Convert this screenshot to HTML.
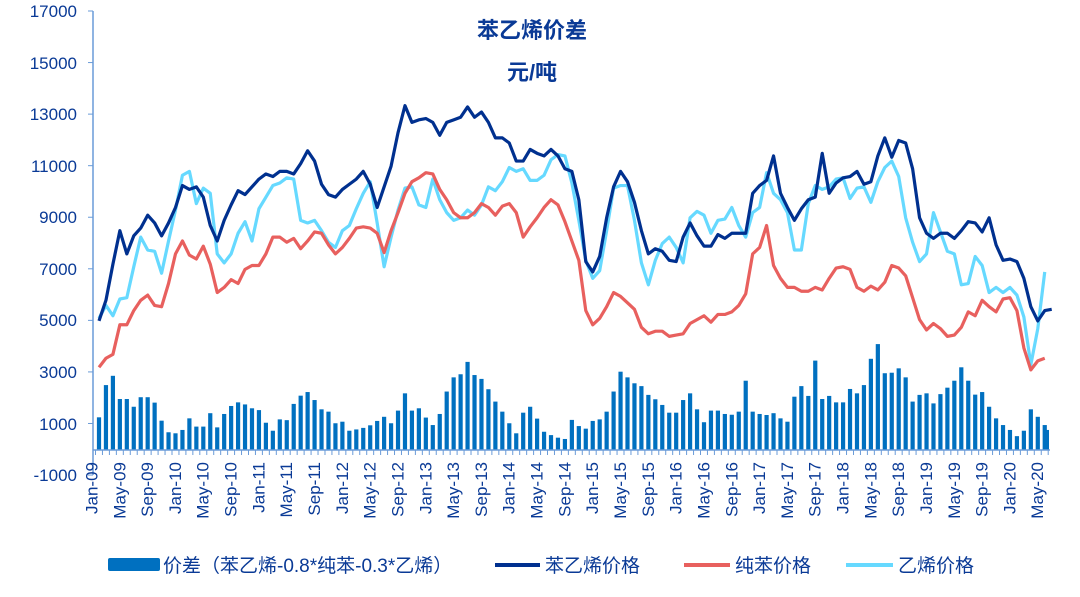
<!DOCTYPE html>
<html><head><meta charset="utf-8"><style>
html,body{margin:0;padding:0;background:#fff;}
svg{display:block;font-family:"Liberation Sans","Noto Sans CJK SC",sans-serif;}
</style></head><body>
<svg id="c" width="1080" height="597" viewBox="0 0 1080 597" xmlns="http://www.w3.org/2000/svg">
<g id="bars"></g>
<g id="lines"></g>
<line x1="93" y1="11" x2="93" y2="475" stroke="#6A9BD8" stroke-width="1.5"/>
<line x1="93" y1="450" x2="1050" y2="450" stroke="#6A9BD8" stroke-width="1.5"/>
<g id="ticks" stroke="#6A9BD8" stroke-width="1"></g>
<g fill="#0A3A96" font-size="17" text-anchor="end">
<text x="77" y="17">17000</text><text x="77" y="69">15000</text><text x="77" y="120">13000</text>
<text x="77" y="172">11000</text><text x="77" y="223">9000</text><text x="77" y="275">7000</text>
<text x="77" y="326">5000</text><text x="77" y="378">3000</text><text x="77" y="430">1000</text>
<text x="77" y="481">-1000</text>
</g>
<g id="xl" fill="#0A3A96" font-size="17" text-anchor="end" dominant-baseline="middle"></g>
<g fill="#0A3A96" font-weight="bold" font-size="22" text-anchor="middle">
<text x="532" y="38">苯乙烯价差</text>
<text x="532" y="80">元/吨</text>
</g>
<rect x="108" y="558" width="52" height="13" rx="2" fill="#0070C0"/>
<text x="163" y="572" font-size="19" fill="#0A3A96">价差（苯乙烯-0.8*纯苯-0.3*乙烯）</text>
<line x1="495" y1="565" x2="540" y2="565" stroke="#00308F" stroke-width="4"/>
<text x="545" y="572" font-size="19" fill="#0A3A96">苯乙烯价格</text>
<line x1="684" y1="565" x2="730" y2="565" stroke="#E8605E" stroke-width="4"/>
<text x="735" y="572" font-size="19" fill="#0A3A96">纯苯价格</text>
<line x1="846" y1="565" x2="893" y2="565" stroke="#66D9FF" stroke-width="4"/>
<text x="898" y="572" font-size="19" fill="#0A3A96">乙烯价格</text>
</svg>
<script>
var S=[5.0,5.8,7.2,8.5,7.6,8.3,8.6,9.1,8.8,8.3,8.8,9.4,10.25,10.1,10.2,9.8,8.7,8.1,8.9,9.5,10.05,9.9,10.2,10.5,10.7,10.6,10.8,10.8,10.7,11.1,11.6,11.2,10.3,9.9,9.8,10.1,10.3,10.5,10.8,10.3,9.4,10.2,11.0,12.3,13.35,12.7,12.8,12.85,12.7,12.2,12.7,12.8,12.9,13.3,12.9,13.1,12.7,12.1,12.1,11.9,11.2,11.2,11.65,11.5,11.4,11.65,11.4,10.9,10.8,9.7,7.3,6.9,7.5,9.0,10.2,10.8,10.4,9.6,8.5,7.6,7.8,7.7,7.35,7.3,8.25,8.8,8.3,7.9,7.9,8.35,8.2,8.4,8.4,8.4,9.95,10.25,10.45,11.4,9.95,9.4,8.9,9.35,9.7,9.8,11.5,9.95,10.35,10.55,10.6,10.8,10.3,10.4,11.4,12.1,11.35,12.0,11.9,10.9,9.0,8.4,8.2,8.4,8.4,8.2,8.5,8.85,8.8,8.45,9.0,7.95,7.35,7.4,7.3,6.65,5.55,5.0,5.4,5.45];
var B=[3.2,3.55,3.7,4.85,4.85,5.4,5.8,6.0,5.6,5.55,6.45,7.6,8.1,7.55,7.4,7.9,7.2,6.1,6.3,6.6,6.45,7.0,7.15,7.15,7.6,8.25,8.25,8.05,8.2,7.8,8.1,8.45,8.4,7.95,7.6,7.85,8.2,8.6,8.65,8.6,8.4,7.65,8.5,9.2,9.95,10.4,10.55,10.75,10.7,10.1,9.7,9.2,9.0,9.0,9.2,9.55,9.4,9.1,9.45,9.55,9.2,8.25,8.65,9.0,9.4,9.7,9.5,8.85,8.1,7.35,5.4,4.85,5.1,5.55,6.1,5.95,5.7,5.45,4.75,4.5,4.6,4.6,4.4,4.45,4.5,4.9,5.05,5.2,4.95,5.25,5.25,5.35,5.6,6.05,7.6,7.85,8.7,7.15,6.65,6.3,6.3,6.15,6.15,6.3,6.2,6.65,7.05,7.1,7.0,6.3,6.15,6.35,6.2,6.5,7.15,7.05,6.75,5.9,5.05,4.65,4.9,4.7,4.4,4.45,4.75,5.35,5.2,5.8,5.55,5.35,5.85,5.9,5.4,3.95,3.1,3.45,3.55];
var E=[5.1,5.6,5.2,5.85,5.9,7.1,8.25,7.75,7.7,6.85,8.1,9.3,10.65,10.8,9.55,10.15,9.95,7.6,7.25,7.6,8.4,8.85,8.1,9.35,9.8,10.25,10.35,10.55,10.5,8.9,8.8,8.9,8.5,8.05,7.85,8.5,8.7,9.35,9.95,10.4,8.8,7.1,8.25,9.3,10.15,10.2,9.5,9.4,10.5,9.7,9.2,8.9,9.0,9.3,9.1,9.5,10.2,10.05,10.4,10.95,10.8,10.9,10.45,10.45,10.65,11.25,11.45,11.4,10.35,8.9,7.35,6.65,6.95,8.5,10.15,10.25,10.25,8.9,7.25,6.4,7.35,8.0,8.25,7.85,7.25,9.0,9.25,9.1,8.4,8.9,8.95,9.4,8.7,8.25,9.2,9.4,10.75,9.95,9.7,9.2,7.75,7.75,9.55,10.25,10.1,10.2,10.5,10.55,9.75,10.15,10.2,9.6,10.4,10.95,11.2,10.6,9.0,8.05,7.3,7.6,9.2,8.45,7.7,7.6,6.4,6.45,7.5,7.15,6.1,6.3,6.1,6.3,6.0,5.15,3.3,4.7,6.9];
var D=[1.26,2.51,2.87,1.97,1.97,1.67,2.04,2.04,1.83,1.13,0.68,0.64,0.77,1.22,0.9,0.9,1.42,0.87,1.39,1.7,1.84,1.76,1.61,1.54,1.05,0.74,1.18,1.15,1.78,2.1,2.24,1.93,1.57,1.48,1.03,1.09,0.74,0.79,0.85,0.95,1.12,1.28,1.03,1.52,2.19,1.52,1.61,1.25,0.96,1.39,2.26,2.81,2.93,3.41,2.9,2.75,2.35,1.87,1.48,1.03,0.64,1.44,1.67,1.21,0.7,0.57,0.47,0.42,1.16,0.92,0.82,1.12,1.18,1.48,2.26,3.03,2.81,2.58,2.47,2.13,1.96,1.74,1.44,1.44,1.93,2.19,1.57,1.07,1.52,1.52,1.39,1.36,1.48,2.68,1.48,1.39,1.35,1.42,1.22,1.09,2.06,2.47,2.09,3.46,1.97,2.09,1.84,1.84,2.36,2.19,2.51,3.53,4.1,2.97,2.99,3.16,2.81,1.87,2.13,2.19,1.8,2.16,2.41,2.68,3.2,2.68,2.14,2.24,1.67,1.22,0.96,0.77,0.53,0.74,1.57,1.28,0.96];
function X(i){return 99+6.954*i;}
function Y(v){return 449.8-v*25.78;}
var ns="http://www.w3.org/2000/svg";
var bars=document.getElementById('bars');
D.forEach(function(v,i){var r=document.createElementNS(ns,'rect');r.setAttribute('x',(X(i)-2.1).toFixed(2));r.setAttribute('y',Y(v).toFixed(2));r.setAttribute('width','4.2');r.setAttribute('height',(v*25.78).toFixed(2));r.setAttribute('fill','#0070C0');bars.appendChild(r);});
var r=document.createElementNS(ns,'rect');r.setAttribute('x','1046.5');r.setAttribute('y',Y(0.77));r.setAttribute('width','2.5');r.setAttribute('height',0.77*25.78);r.setAttribute('fill','#0070C0');bars.appendChild(r);
var lines=document.getElementById('lines');
[[E,'#66D9FF'],[B,'#E8605E'],[S,'#00308F']].forEach(function(a){var d='';a[0].forEach(function(v,i){d+=(i?'L':'M')+X(i).toFixed(2)+','+Y(v).toFixed(2);});var p=document.createElementNS(ns,'path');p.setAttribute('d',d);p.setAttribute('fill','none');p.setAttribute('stroke',a[1]);p.setAttribute('stroke-width','3.2');p.setAttribute('stroke-linejoin','round');lines.appendChild(p);});
var t=document.getElementById('ticks');
for(var i=0;i<=137;i++){var l=document.createElementNS(ns,'line');var x=95.5+6.954*i;l.setAttribute('x1',x);l.setAttribute('x2',x);l.setAttribute('y1',450);l.setAttribute('y2',455);t.appendChild(l);}
for(var k=0;k<10;k++){var l=document.createElementNS(ns,'line');var y=11+k*51.56;l.setAttribute('x1',88);l.setAttribute('x2',93);l.setAttribute('y1',y);l.setAttribute('y2',y);t.appendChild(l);}
var xl=document.getElementById('xl');
var labs=['Jan-09','May-09','Sep-09','Jan-10','May-10','Sep-10','Jan-11','May-11','Sep-11','Jan-12','May-12','Sep-12','Jan-13','May-13','Sep-13','Jan-14','May-14','Sep-14','Jan-15','May-15','Sep-15','Jan-16','May-16','Sep-16','Jan-17','May-17','Sep-17','Jan-18','May-18','Sep-18','Jan-19','May-19','Sep-19','Jan-20','May-20'];
labs.forEach(function(s,j){var e=document.createElementNS(ns,'text');var x=93+6.954*4*j;e.setAttribute('transform','translate('+x.toFixed(2)+',462) rotate(-90)');e.textContent=s;xl.appendChild(e);});
</script>
</body></html>
